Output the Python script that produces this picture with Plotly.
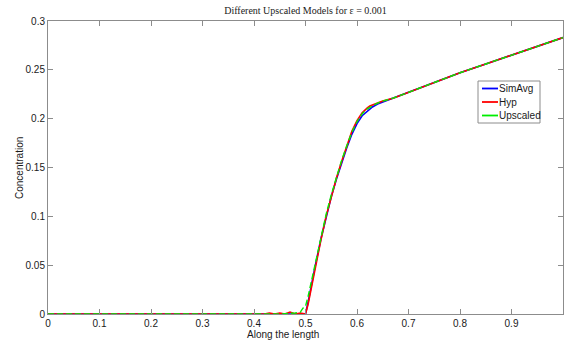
import plotly.graph_objects as go

# Along the length (x) and concentration values
x_simavg = [0.0, 0.1, 0.2, 0.3, 0.4, 0.45, 0.5, 0.505, 0.51, 0.52, 0.53, 0.54, 0.55, 0.56, 0.57, 0.58, 0.59, 0.60, 0.61, 0.62, 0.63, 0.64, 0.65, 0.67, 0.70, 0.75, 0.80, 0.85, 0.90, 0.95, 1.0]
y_simavg = [0.0, 0.0, 0.0, 0.0, 0.0, 0.0, 0.0, 0.012, 0.026, 0.052, 0.077, 0.100, 0.120, 0.138, 0.155, 0.170, 0.184, 0.195, 0.203, 0.208, 0.212, 0.215, 0.217, 0.221, 0.227, 0.237, 0.247, 0.256, 0.265, 0.274, 0.283]

x_hyp = [0.0, 0.1, 0.2, 0.3, 0.4, 0.42, 0.43, 0.44, 0.45, 0.46, 0.47, 0.48, 0.49, 0.5, 0.505, 0.51, 0.52, 0.53, 0.54, 0.55, 0.56, 0.57, 0.58, 0.59, 0.60, 0.61, 0.62, 0.625, 0.63, 0.64, 0.65, 0.67, 0.70, 0.75, 0.80, 0.85, 0.90, 0.95, 1.0]
y_hyp = [0.0, 0.0, 0.0, 0.0, 0.0, 0.0, 0.001, 0.0, 0.001, 0.0, 0.002, 0.0, 0.001, 0.0, 0.010, 0.024, 0.050, 0.076, 0.100, 0.121, 0.139, 0.156, 0.172, 0.187, 0.198, 0.206, 0.211, 0.213, 0.214, 0.216, 0.218, 0.221, 0.227, 0.237, 0.247, 0.256, 0.265, 0.274, 0.283]

x_upscaled = [0.0, 0.1, 0.2, 0.3, 0.4, 0.45, 0.48, 0.49, 0.495, 0.5, 0.505, 0.51, 0.52, 0.53, 0.54, 0.55, 0.56, 0.57, 0.58, 0.59, 0.60, 0.61, 0.62, 0.63, 0.64, 0.65, 0.67, 0.70, 0.75, 0.80, 0.85, 0.90, 0.95, 1.0]
y_upscaled = [0.0, 0.0, 0.0, 0.0, 0.0, 0.0, 0.001, 0.002, 0.006, 0.008, 0.018, 0.030, 0.055, 0.080, 0.102, 0.122, 0.140, 0.157, 0.172, 0.186, 0.197, 0.205, 0.210, 0.213, 0.216, 0.218, 0.221, 0.227, 0.237, 0.247, 0.256, 0.265, 0.274, 0.283]

x_ticks = [0, 0.1, 0.2, 0.3, 0.4, 0.5, 0.6, 0.7, 0.8, 0.9, 1]
x_tick_labels = ["0", "0.1", "0.2", "0.3", "0.4", "0.5", "0.6", "0.7", "0.8", "0.9", "1"]
y_ticks = [0, 0.05, 0.1, 0.15, 0.2, 0.25, 0.3]
y_tick_labels = ["0", "0.05", "0.1", "0.15", "0.2", "0.25", "0.3"]

series_names = ["SimAvg", "Hyp", "Upscaled"]
series_colors = ["#0000ff", "#ff0000", "#00ee00"]

FONT = "Liberation Sans, Arial, sans-serif"
TXT = "#1a1a1a"
GREY = "#8c8c8c"
FS = 10

fig = go.Figure()
fig.add_trace(go.Scatter(x=x_simavg, y=y_simavg, mode="lines", name=series_names[0],
                         line=dict(color=series_colors[0], width=1.6)))
fig.add_trace(go.Scatter(x=x_hyp, y=y_hyp, mode="lines", name=series_names[1],
                         line=dict(color=series_colors[1], width=1.6)))
fig.add_trace(go.Scatter(x=x_upscaled, y=y_upscaled, mode="lines", name=series_names[2],
                         line=dict(color=series_colors[2], width=1.4, dash="6px,3px")))

axis_common = dict(
    showline=True, linecolor=GREY, linewidth=1, mirror="ticks", automargin=False,
    ticks="inside", ticklen=5, tickcolor=GREY, showgrid=False, zeroline=False,
    tickfont=dict(family=FONT, size=FS, color=TXT),
)

# Layout geometry in pixels
W, H = 564, 343
ml, mr, mt, mb = 48, 1, 21, 29
pw, ph = W - ml - mr, H - mt - mb

def px2paper(px, py):
    return (px - ml) / pw, (H - mb - py) / ph

shapes = []
annotations = []
# Custom MATLAB-style legend box
bx0, by0 = px2paper(478, 81)
bx1, by1 = px2paper(540, 123)
shapes.append(dict(type="rect", xref="paper", yref="paper", x0=bx0, y0=by1, x1=bx1, y1=by0,
                   line=dict(color=GREY, width=1), fillcolor="white", layer="above"))
for i, (nm, col) in enumerate(zip(series_names, series_colors)):
    yy = 88.5 + i * 13.5
    lx0, ly = px2paper(482, yy)
    lx1, _ = px2paper(498, yy)
    shapes.append(dict(type="line", xref="paper", yref="paper", x0=lx0, y0=ly, x1=lx1, y1=ly,
                       line=dict(color=col, width=1.8), layer="above"))
    tx, _ = px2paper(497, yy)
    annotations.append(dict(xref="paper", yref="paper", x=tx, y=ly, text=nm, showarrow=False,
                            xanchor="left", yanchor="middle",
                            font=dict(family=FONT, size=FS, color=TXT)))

# Axis titles placed as annotations
ax_x, ax_y = px2paper(283, 334)
annotations.append(dict(xref="paper", yref="paper", x=ax_x, y=ax_y, text="Along the length",
                        showarrow=False, xanchor="center", yanchor="middle",
                        font=dict(family=FONT, size=FS, color=TXT)))
ay_x, ay_y = px2paper(19, 168)
annotations.append(dict(xref="paper", yref="paper", x=ay_x, y=ay_y, text="Concentration",
                        showarrow=False, xanchor="center", yanchor="middle", textangle=-90,
                        font=dict(family=FONT, size=FS, color=TXT)))

fig.update_layout(
    width=W, height=H,
    margin=dict(l=ml, r=mr, t=mt, b=mb, autoexpand=False),
    paper_bgcolor="white", plot_bgcolor="white",
    title=dict(text="Different Upscaled Models for ε = 0.001", x=(ml + pw / 2) / W, xanchor="center",
               y=1 - 10 / H, yanchor="middle",
               font=dict(family="Liberation Serif, Times New Roman, serif", size=FS, color=TXT)),
    xaxis=dict(range=[0, 1], tickvals=x_ticks, ticktext=x_tick_labels, **axis_common),
    yaxis=dict(range=[0, 0.3], tickvals=y_ticks, ticktext=y_tick_labels, **axis_common),
    showlegend=False,
    shapes=shapes,
    annotations=annotations,
)

fig.write_html("out.html", config={"displayModeBar": False},
               post_script="document.body.style.margin='0';document.body.style.overflow='hidden';")
